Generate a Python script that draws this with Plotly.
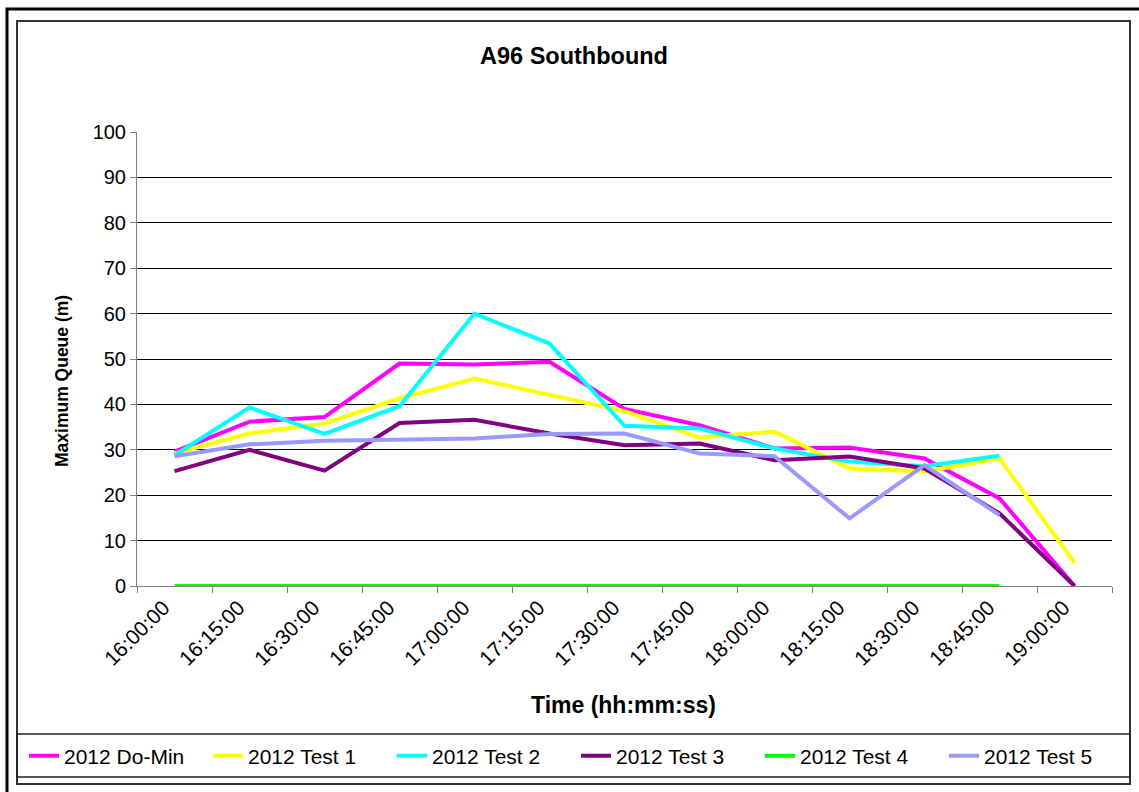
import plotly.graph_objects as go

categories = ["16:00:00", "16:15:00", "16:30:00", "16:45:00", "17:00:00", "17:15:00",
              "17:30:00", "17:45:00", "18:00:00", "18:15:00", "18:30:00", "18:45:00", "19:00:00"]

do_min = [29.6, 36.2, 37.2, 49.0, 48.8, 49.4, 39.0, 35.4, 30.3, 30.5, 28.1, 19.3, 0.0]
test_1 = [29.2, 33.6, 35.8, 41.3, 45.7, 42.0, 38.5, 32.7, 34.0, 25.9, 25.2, 28.1, 5.1]
test_2 = [28.8, 39.3, 33.5, 39.6, 60.0, 53.4, 35.3, 34.7, 30.3, 27.4, 26.4, 28.7, None]
test_3 = [25.3, 30.0, 25.4, 35.9, 36.6, 33.6, 31.0, 31.4, 27.7, 28.5, 25.9, 16.0, 0.0]
test_4 = [0, 0, 0, 0, 0, 0, 0, 0, 0, 0, 0, 0, None]
test_5 = [28.6, 31.2, 32.0, 32.3, 32.5, 33.5, 33.6, 29.2, 28.6, 14.9, 26.6, 15.6, None]

series = [
    ("2012 Do-Min", do_min, "#FF00FF"),
    ("2012 Test 1", test_1, "#FFFF00"),
    ("2012 Test 2", test_2, "#00FFFF"),
    ("2012 Test 3", test_3, "#800080"),
    ("2012 Test 4", test_4, "#00FF00"),
    ("2012 Test 5", test_5, "#9999FF"),
]

FONT = "Arial, 'Liberation Sans', sans-serif"
W, H = 1139, 792
L, R, T, B = 137, 27, 132, 206
PW, PH = W - L - R, H - T - B


def px(x):
    return (x - L) / PW


def py(y):
    return (H - B - y) / PH


fig = go.Figure()
for name, vals, color in series:
    fig.add_trace(go.Scatter(x=categories, y=vals, name=name, mode="lines",
                             line=dict(color=color, width=4), connectgaps=False))

shapes = [
    # outer thick frame
    dict(type="rect", xref="paper", yref="paper", x0=px(7), x1=px(1145), y0=py(798), y1=py(9),
         line=dict(color="black", width=3)),
    # inner chart frame
    dict(type="rect", xref="paper", yref="paper", x0=px(17), x1=px(1130), y0=py(784), y1=py(21),
         line=dict(color="#333333", width=2)),
    # legend box
    dict(type="rect", xref="paper", yref="paper", x0=px(17), x1=px(1130), y0=py(777), y1=py(734),
         line=dict(color="#222222", width=1.5)),
]

fig.update_layout(
    width=W, height=H,
    margin=dict(l=L, r=R, t=T, b=B, autoexpand=False),
    paper_bgcolor="white", plot_bgcolor="white",
    font=dict(family=FONT, color="black"),
    title=dict(text="<b>A96 Southbound</b>", xref="container", x=574 / W, xanchor="center",
               yref="container", y=1 - 56 / H, yanchor="middle",
               font=dict(size=23.5, family=FONT, color="black")),
    showlegend=True,
    legend=dict(orientation="h", xref="paper", yref="paper", x=px(24), xanchor="left",
                y=py(756), yanchor="middle", font=dict(size=21, family=FONT),
                bgcolor="rgba(0,0,0,0)", itemwidth=30, traceorder="normal",
                entrywidth=139, entrywidthmode="pixels"),
    shapes=shapes,
    annotations=[
        dict(text="<b>Time (hh:mm:ss)</b>", xref="paper", yref="paper", x=px(623), y=py(705),
             xanchor="center", yanchor="middle", showarrow=False,
             font=dict(size=23, family=FONT)),
        dict(text="<b>Maximum Queue (m)</b>", xref="paper", yref="paper", x=px(62), y=py(381),
             xanchor="center", yanchor="middle", showarrow=False, textangle=-90,
             font=dict(size=17.5, family=FONT)),
    ],
)

fig.update_xaxes(type="category", range=[-0.5, len(categories) - 0.5],
                 showline=True, linecolor="#808080", linewidth=1,
                 ticks="outside", tickson="boundaries", ticklen=6, tickcolor="#808080",
                 tickangle=-45, tickfont=dict(size=21, family=FONT), ticklabelshift=-11,
                 showgrid=False, zeroline=False)
fig.update_yaxes(range=[0, 100], dtick=10, showline=True, linecolor="#808080", linewidth=1,
                 ticks="outside", ticklen=6, tickcolor="#808080",
                 tickfont=dict(size=20, family=FONT),
                 showgrid=True, gridcolor="black", gridwidth=1, zeroline=False)

fig.write_html("out.html", config={"displayModeBar": False},
               post_script="document.body.style.margin='0';")
